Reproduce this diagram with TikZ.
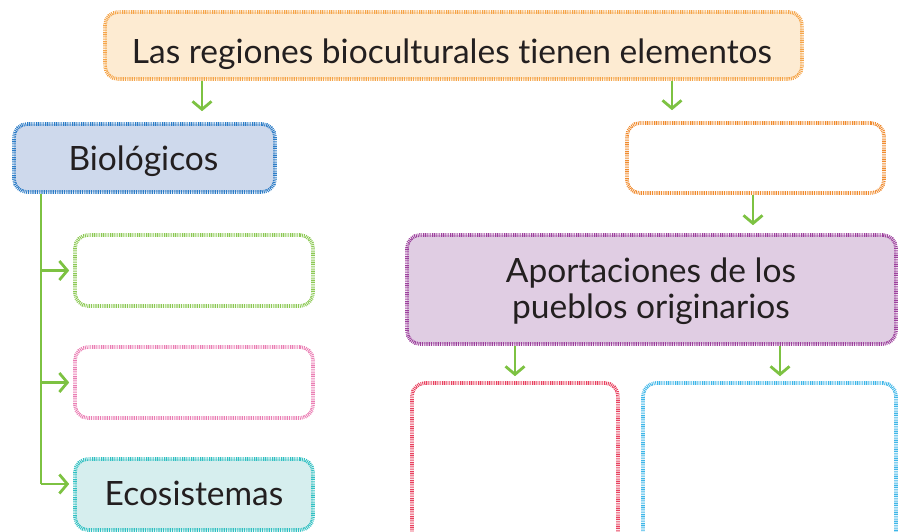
\documentclass[tikz,border=0pt]{standalone}
\usepackage{fontspec}
\setmainfont{Lato}[Ligatures=NoCommon]
\usetikzlibrary{arrows.meta,calc}
\definecolor{txt}{HTML}{231F20}
\definecolor{arr}{HTML}{7DC242}
\definecolor{orfill}{HTML}{FDEBD2}
\definecolor{ordraw}{HTML}{F5A448}
\definecolor{or2}{HTML}{F08A2C}
\definecolor{bifill}{HTML}{CED9EC}
\definecolor{bidraw}{HTML}{2B7CC7}
\definecolor{grdraw}{HTML}{8BC852}
\definecolor{pkdraw}{HTML}{EA7DB3}
\definecolor{tqfill}{HTML}{D6EEEE}
\definecolor{tqdraw}{HTML}{2FC0C2}
\definecolor{pufill}{HTML}{E0CDE3}
\definecolor{pudraw}{HTML}{9C3F9C}
\definecolor{rddraw}{HTML}{E8405E}
\definecolor{bldraw}{HTML}{3DB6E8}
\tikzset{
  x=1pt,y=-1pt,
  cbox/.style={draw, line width=3.6pt, dash pattern=on 0.9pt off 0.9pt, rounded corners=13pt,
    inner sep=0pt},
  lbl/.style={anchor=base, inner sep=0pt, text=txt, font=\fontsize{33.5}{36}\selectfont},
  conn/.style={draw=arr, line width=2.8pt, -{Straight Barb[length=8pt,width=19pt,line width=2.8pt]}},
  plain/.style={draw=arr, line width=2.8pt}
}
\begin{document}
\begin{tikzpicture}
\useasboundingbox (0,0) rectangle (898,531);
\node[cbox, fill=orfill, draw=ordraw, minimum width=697pt, minimum height=67pt] (top) at (453.5,45.5) {};
\node[cbox, fill=bifill, draw=bidraw, minimum width=261pt, minimum height=68pt] (bio) at (144.5,158) {};
\node[cbox, draw=or2, minimum width=257pt, minimum height=70pt] (ro) at (755.5,158) {};
\node[cbox, draw=grdraw, minimum width=238pt, minimum height=71pt] (g) at (194,270.5) {};
\node[cbox, draw=pkdraw, minimum width=238pt, minimum height=71pt] (p) at (194,382.5) {};
\node[cbox, fill=tqfill, draw=tqdraw, minimum width=238pt, minimum height=71pt] (eco) at (194,494.5) {};
\node[cbox, fill=pufill, draw=pudraw, minimum width=489pt, minimum height=109pt] (apo) at (651.5,289.5) {};
\node[cbox, draw=rddraw, minimum width=206pt, minimum height=170pt] (rd) at (515,468) {};
\node[cbox, draw=bldraw, minimum width=253pt, minimum height=170pt] (bl) at (769.5,468) {};
\node[lbl] (ttop) at (452,63) {Las regiones bioculturales tienen elementos};
\node[lbl] (tbio) at (143.5,170) {Biológicos};
\node[lbl] (teco) at (194,505) {Ecosistemas};
\node[lbl] (tapo1) at (651,282) {Aportaciones de los};
\node[lbl] (tapo2) at (651,318) {pueblos originarios};
\coordinate (c1) at (202,0);
\coordinate (c2) at (672,0);
\coordinate (c3) at (753,0);
\coordinate (c4) at (515,0);
\coordinate (c5) at (780,0);
\coordinate (c6) at (41,0);
\draw[conn, shorten >=11pt] (top.south -| c1) -- (bio.north -| c1);
\draw[conn, shorten >=11pt] (top.south -| c2) -- (ro.north -| c2);
\draw[conn, shorten >=8pt] (ro.south -| c3) -- (apo.north -| c3);
\draw[conn, shorten >=5pt] (apo.south -| c4) -- (rd.north -| c4);
\draw[conn, shorten >=5pt] (apo.south -| c5) -- (bl.north -| c5);
\draw[plain] (bio.south -| c6) -- ([yshift=10.5pt]eco.west -| c6);
\draw[conn, shorten >=4pt] (g.west -| c6) -- (g.west);
\draw[conn, shorten >=4pt] (p.west -| c6) -- (p.west);
\draw[conn, shorten >=4pt] ([yshift=10.5pt]eco.west -| c6) -- ([yshift=10.5pt]eco.west);
\end{tikzpicture}
\end{document}
